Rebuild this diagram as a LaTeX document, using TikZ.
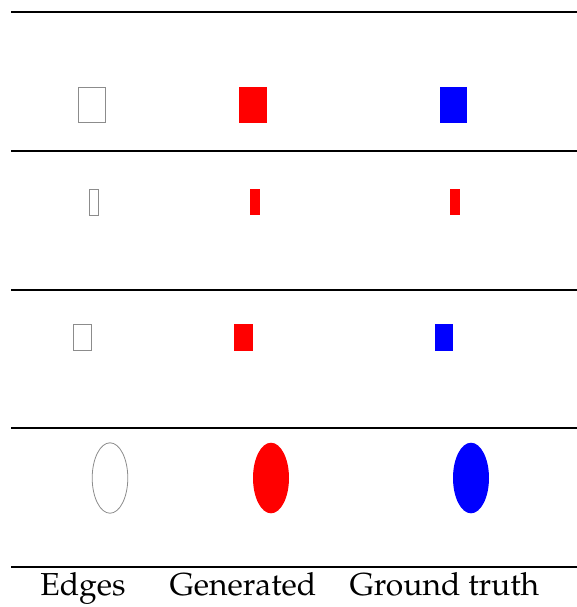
\documentclass[tikz,border=0pt]{standalone}
\usepackage[T1]{fontenc}
\usepackage{mathpazo}
\usepackage{tikz}

\begin{document}
\begin{tikzpicture}[x=0.5pt,y=-0.5pt,
	edge/.style={draw=black!45,line width=0.4pt},
	rule/.style={line width=0.65pt},
	label/.style={anchor=base,inner sep=0pt,font=\fontsize{15.9}{18}\selectfont}]
\useasboundingbox (0,0) rectangle (577,607);
% rules
	\draw[rule] (11.5,12) -- (577,12);
	\draw[rule] (11.5,151) -- (577,151);
	\draw[rule] (11.5,290) -- (577,290);
	\draw[rule] (11.5,428) -- (577,428);
	\draw[line width=1pt] (11.5,567) -- (577,567);
% first row
	\draw[edge] (78.5,87.5) rectangle (105.5,122.5);
	\fill[color=red] (239.3,86.7) rectangle (266.7,122.7);
	\fill[color=blue] (440,86.7) rectangle (466.7,122.7);
% second row
	\draw[edge] (89.2,188.9) rectangle (98.5,215.1);
	\fill[color=red] (250,188.7) rectangle (260,215.3);
	\fill[color=red] (450.3,188.7) rectangle (460.3,215.3);
% third row
	\draw[edge] (73.5,324.2) rectangle (91.5,350.8);
	\fill[color=red] (234.3,324) rectangle (253,351);
	\fill[color=blue] (435,324) rectangle (453.3,351);
% fourth row
	\draw[edge] (110,478) ellipse (17.8 and 35.2);
	\fill[color=red] (271,478) ellipse (18 and 35.3);
	\fill[color=blue] (471,478) ellipse (18 and 35.3);
% column names
	\node[label] (edges) at (83,595.7) {Edges};
	\node[label] (gen) at (243,595.7) {Generated};
	\node[label] (truth) at (444.4,595.7) {Ground truth};
\end{tikzpicture}
\end{document}
